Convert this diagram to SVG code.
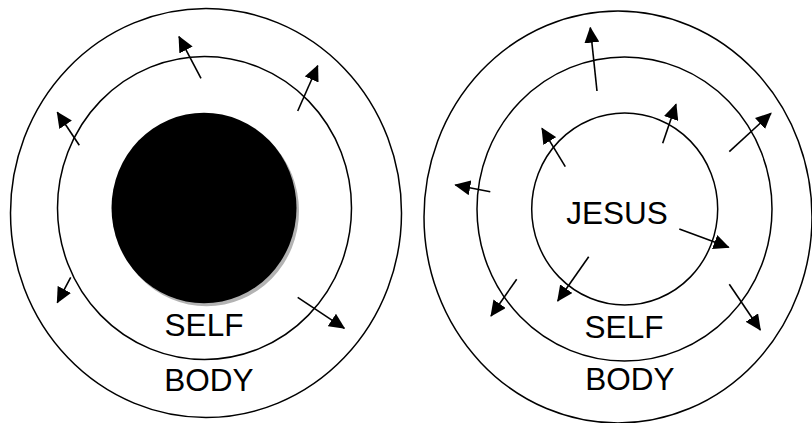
<svg xmlns="http://www.w3.org/2000/svg" width="812" height="423" viewBox="0 0 812 423">
<style>
.ring{fill:none;stroke:#000;stroke-width:1.5}
.lbl{font-family:"Liberation Sans",Arial,sans-serif;font-size:31.5px;fill:#000;text-anchor:middle}
.arr{stroke:#000;stroke-width:1.6;fill:none;marker-end:url(#ah)}
</style>
<defs>
<marker id="ah" markerUnits="userSpaceOnUse" markerWidth="16" markerHeight="15" refX="15" refY="7.5" orient="auto">
<path d="M0,0 L16,7.5 L0,15 z" fill="#000"/>
</marker>
</defs>
<rect width="812" height="423" fill="#fff"/>
<g id="left-body"><ellipse class="ring" cx="206" cy="213" rx="195.5" ry="204.5"/><text class="lbl" x="209" y="391">BODY</text></g>
<g id="left-self"><ellipse class="ring" cx="204.5" cy="208" rx="147" ry="151.5"/><text class="lbl" x="204" y="336">SELF</text></g>
<g id="left-core"><ellipse cx="206.5" cy="211" rx="92.5" ry="95.3" fill="#b3b3b3"/><ellipse cx="204" cy="208" rx="92.5" ry="95.3" fill="#000"/></g>
<g id="right-body"><ellipse class="ring" cx="618" cy="217" rx="194" ry="206"/><text class="lbl" x="630" y="390">BODY</text></g>
<g id="right-self"><ellipse class="ring" cx="624.5" cy="209" rx="147.5" ry="152"/><text class="lbl" x="624" y="338">SELF</text></g>
<g id="right-jesus"><ellipse class="ring" cx="624.7" cy="209" rx="93" ry="96"/><text class="lbl" x="617" y="224">JESUS</text></g>
<g id="connectors">
<line class="arr" x1="201" y1="78.3" x2="179" y2="36.7"/>
<line class="arr" x1="297.7" y1="111" x2="317.7" y2="65.7"/>
<line class="arr" x1="79.3" y1="145.3" x2="57.3" y2="112.3"/>
<line class="arr" x1="70.7" y1="277.3" x2="57.3" y2="302.7"/>
<line class="arr" x1="297.7" y1="297.3" x2="344.3" y2="328.3"/>
<line class="arr" x1="597" y1="91" x2="590.3" y2="27.7"/>
<line class="arr" x1="565.3" y1="166.7" x2="542" y2="128.3"/>
<line class="arr" x1="662.7" y1="143.3" x2="676" y2="104.3"/>
<line class="arr" x1="729.3" y1="151.7" x2="771" y2="113.3"/>
<line class="arr" x1="490.3" y1="191.7" x2="455.3" y2="185"/>
<line class="arr" x1="679.3" y1="229" x2="728.7" y2="247.3"/>
<line class="arr" x1="588.7" y1="256.7" x2="557.7" y2="301"/>
<line class="arr" x1="516.7" y1="279.3" x2="491" y2="316"/>
<line class="arr" x1="729.3" y1="284.3" x2="760.3" y2="330"/>
</g>
</svg>
